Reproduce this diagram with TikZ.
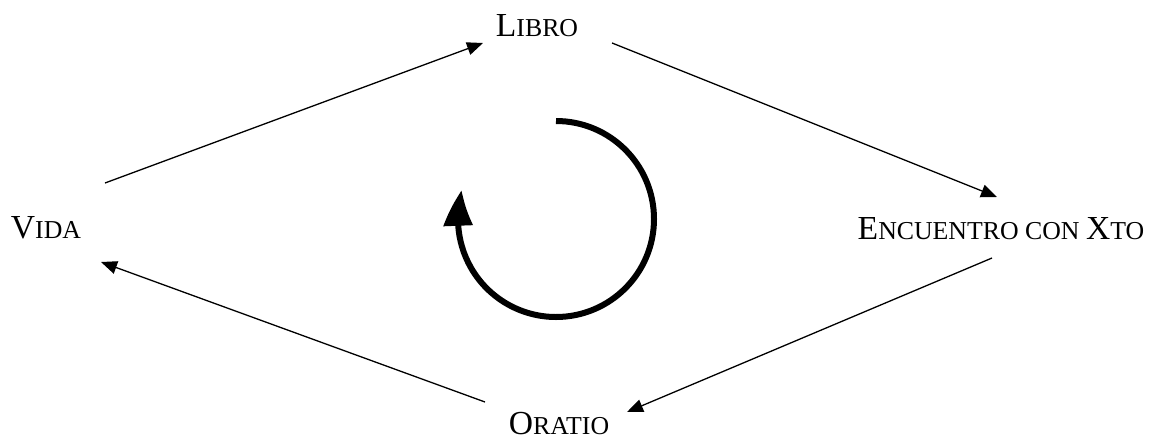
\documentclass[tikz,border=0pt]{standalone}
\usepackage{fontspec}
\setmainfont{Liberation Serif}
\usetikzlibrary{arrows.meta,bending}
\newcommand\mycap[1]{{\fontsize{16.8}{20}\selectfont #1}}
\begin{document}
\begin{tikzpicture}[x=0.5pt,y=0.5pt,
  lbl/.style={inner sep=0pt,font=\fontsize{12.9}{15}\selectfont},
  conn/.style={line width=0.65pt,-{Triangle[length=8pt,width=6.5pt]}}]
\useasboundingbox (0,0) rectangle (1150,441);
\node[lbl] (libro) at (537,415) {\mycap{L}IBRO};
\node[lbl] (vida) at (46,213) {\mycap{V}IDA};
\node[lbl] (enc) at (1001,212) {\mycap{E}NCUENTRO CON \mycap{X}TO};
\node[lbl] (oratio) at (559,17) {\mycap{O}RATIO};
\draw[conn] ([shift={(59,45)}]vida.center) -- ([shift={(-54,-17)}]libro.center);
\draw[conn] ([shift={(75,-17)}]libro.center) -- ([shift={(-4,32)}]enc.center);
\draw[conn] ([shift={(-9,-29)}]enc.center) -- ([shift={(68,12)}]oratio.center);
\draw[conn] ([shift={(-74,22)}]oratio.center) -- ([shift={(55,-34)}]vida.center);
\coordinate (cc) at (556,222);
\draw[line width=3pt,-{Triangle[length=18pt,width=14pt,bend]}] ([shift={(90:98)}]cc) arc[start angle=90,end angle=-197,radius=98];
\end{tikzpicture}
\end{document}
